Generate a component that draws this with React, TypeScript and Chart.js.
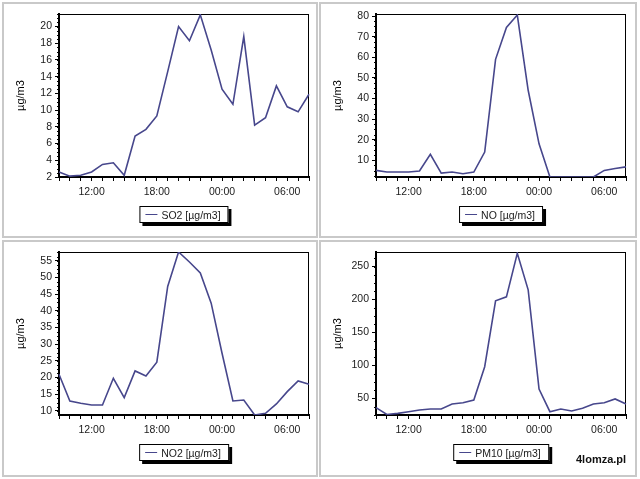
import React, { useEffect, useRef } from 'react';
import { Chart, registerables } from 'chart.js';

Chart.register(...registerables);

// ---- data ----
const hours = [
  '09:00', '10:00', '11:00', '12:00', '13:00', '14:00', '15:00', '16:00',
  '17:00', '18:00', '19:00', '20:00', '21:00', '22:00', '23:00', '00:00',
  '01:00', '02:00', '03:00', '04:00', '05:00', '06:00', '07:00', '08:00',
];
const shownHours = ['12:00', '18:00', '00:00', '06:00'];

const so2 = [2.6, 2.1, 2.2, 2.6, 3.5, 3.7, 2.2, 6.9, 7.7, 9.3, 14.6, 20.0, 18.3, 21.4, 17.2, 12.5, 10.7, 18.8, 8.2, 9.1, 12.9, 10.4, 9.8, 11.9];
const no = [5.1, 4.3, 4.3, 4.3, 4.8, 12.9, 3.8, 4.3, 3.5, 4.3, 14.0, 59.0, 74.5, 80.5, 44.0, 18.0, 1.9, 1.9, 1.9, 1.9, 1.9, 5.1, 6.0, 6.8];
const no2 = [21.0, 13.0, 12.3, 11.8, 11.8, 19.8, 14.0, 22.0, 20.5, 24.6, 47.3, 57.6, 54.6, 51.3, 42.3, 27.3, 13.0, 13.3, 8.8, 9.3, 12.1, 15.8, 19.0, 18.0];
const pm10 = [35.8, 25.5, 27.2, 29.7, 32.3, 33.8, 33.8, 41.4, 43.4, 47.5, 98.0, 198.0, 204.0, 270.0, 214.6, 64.0, 29.7, 33.8, 30.8, 34.8, 41.4, 43.4, 49.0, 41.4];

const so2Ticks = [2, 4, 6, 8, 10, 12, 14, 16, 18, 20];
const noTicks = [10, 20, 30, 40, 50, 60, 70, 80];
const no2Ticks = [10, 15, 20, 25, 30, 35, 40, 45, 50, 55];
const pm10Ticks = [50, 100, 150, 200, 250];

const so2Range = [2, 21.5];
const noRange = [1.9, 81];
const no2Range = [8.8, 57.6];
const pm10Range = [24.7, 272];

const unitTitle = 'µg/m3';
const so2Label = 'SO2 [µg/m3]';
const noLabel = 'NO [µg/m3]';
const no2Label = 'NO2 [µg/m3]';
const pm10Label = 'PM10 [µg/m3]';
const credit = '4lomza.pl';

// ---- styles ----
const LINE = '#47478c';
const FONT_FAMILY = '"Liberation Sans", Arial, sans-serif';
const TEXT = '#1a1a1a';
const CW = 315;
const CH = 235;

const framePlugin = {
  id: 'frame',
  beforeDatasetsDraw(chart: any) {
    const { ctx, chartArea } = chart;
    ctx.save();
    ctx.strokeStyle = '#000';
    ctx.lineWidth = 1;
    ctx.strokeRect(chartArea.left + 0.5, chartArea.top + 0.5, chartArea.right - chartArea.left - 1, chartArea.bottom - chartArea.top - 1);
    // minor ticks on y axis
    const y = chart.scales.y;
    const majors: number[] = chart.options.plugins.frame.majors;
    const sub = 4;
    const step = majors[1] - majors[0];
    ctx.lineWidth = 1;
    for (let v = majors[0] - step; v <= y.max; v += step / sub) {
      if (v < y.min) continue;
      const py = Math.round(y.getPixelForValue(v)) + 0.5;
      ctx.beginPath();
      ctx.moveTo(chartArea.left - 2, py);
      ctx.lineTo(chartArea.left, py);
      ctx.stroke();
    }
    ctx.restore();
  },
};

function makeConfig(label: string, data: number[], range: number[], majors: number[]): any {
  const font = { family: FONT_FAMILY, size: 10.5 };
  return {
    type: 'line',
    data: {
      labels: hours,
      datasets: [{
        label,
        data,
        borderColor: LINE,
        borderWidth: 1.6,
        pointRadius: 0,
        tension: 0,
        fill: false,
      }],
    },
    options: {
      animation: false,
      responsive: false,
      maintainAspectRatio: false,
      layout: { padding: { left: 0, top: 12, right: 8, bottom: 40 } },
      plugins: {
        legend: { display: false },
        tooltip: { enabled: false },
        frame: { majors },
      },
      scales: {
        x: {
          type: 'category',
          offset: false,
          grid: { display: true, drawOnChartArea: false, drawTicks: true, tickLength: 4, tickColor: '#000' },
          border: { display: true, color: '#000', width: 2 },
          ticks: {
            autoSkip: false,
            maxRotation: 0,
            minRotation: 0,
            padding: 5,
            font,
            color: TEXT,
            callback: (_v: any, i: number) => (shownHours.includes(hours[i]) ? hours[i] : ''),
          },
          afterFit: (s: any) => { s.height = 20; },
        },
        y: {
          min: range[0],
          max: range[1],
          bounds: 'data',
          grid: { display: true, drawOnChartArea: false, drawTicks: true, tickLength: 4, tickColor: '#000' },
          border: { display: true, color: '#000', width: 2 },
          ticks: { font, color: TEXT, padding: 3 },
          afterBuildTicks: (s: any) => { s.ticks = majors.map((v) => ({ value: v })); },
          afterFit: (s: any) => { s.width = 57; },
          title: {
            display: true,
            text: unitTitle,
            font: { family: FONT_FAMILY, size: 11 },
            color: '#000',
            padding: { top: 12, bottom: 0 },
          },
        },
      },
    },
    plugins: [framePlugin],
  };
}

function Panel(props: { left: number; top: number; width: number; height: number; label: string; data: number[]; range: number[]; ticks: number[]; children?: any }) {
  const ref = useRef<HTMLCanvasElement | null>(null);
  useEffect(() => {
    if (!ref.current) return;
    const chart = new Chart(ref.current, makeConfig(props.label, props.data, props.range, props.ticks));
    return () => chart.destroy();
  }, []);
  return (
    <div style={{ position: 'absolute', left: props.left, top: props.top, width: props.width, height: props.height }}>
      <canvas ref={ref} width={CW} height={CH} style={{ position: 'absolute', left: 0, top: 0, width: CW, height: CH }} />
      <div style={{ position: 'absolute', left: 0, top: 0, width: props.width, height: props.height, boxSizing: 'border-box', border: '2px solid #c9c9c9', pointerEvents: 'none' }} />
      <div
        style={{
          position: 'absolute',
          left: 57 + 125,
          top: 204,
          transform: 'translateX(-50%)',
          display: 'flex',
          alignItems: 'center',
          boxSizing: 'border-box',
          height: 17,
          padding: '0 7px 0 5px',
          border: '1px solid #000',
          boxShadow: '3px 3px 0 #000',
          background: '#fff',
          fontFamily: FONT_FAMILY,
          fontSize: 10.5,
          color: TEXT,
          whiteSpace: 'nowrap',
        }}
      >
        <span style={{ display: 'inline-block', width: 12, height: 0, borderTop: `1.5px solid ${LINE}`, marginRight: 4 }} />
        <span>{props.label}</span>
      </div>
      {props.children}
    </div>
  );
}

export default function App() {
  return (
    <div style={{ position: 'fixed', left: 0, top: 0, width: 640, height: 479, background: '#fff', overflow: 'hidden' }}>
      <Panel left={2} top={2} width={316} height={236} label={so2Label} data={so2} range={so2Range} ticks={so2Ticks} />
      <Panel left={319} top={2} width={318} height={236} label={noLabel} data={no} range={noRange} ticks={noTicks} />
      <Panel left={2} top={240} width={316} height={237} label={no2Label} data={no2} range={no2Range} ticks={no2Ticks} />
      <Panel left={319} top={240} width={318} height={237} label={pm10Label} data={pm10} range={pm10Range} ticks={pm10Ticks}>
        <div style={{ position: 'absolute', left: 257, top: 212, fontFamily: FONT_FAMILY, fontWeight: 'bold', fontSize: 11, lineHeight: '14px', color: '#111' }}>
          {credit}
        </div>
      </Panel>
    </div>
  );
}
